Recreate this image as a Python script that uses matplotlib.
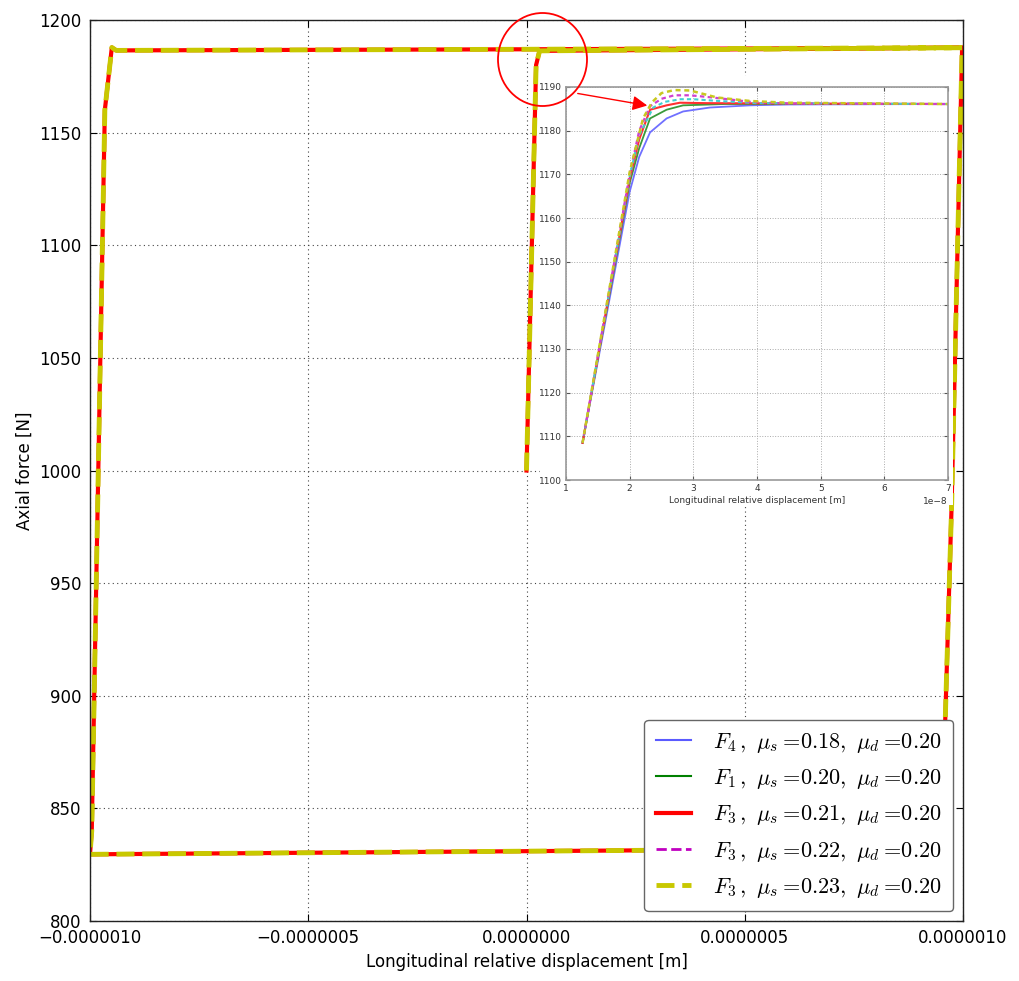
import matplotlib
matplotlib.use("Agg")
import matplotlib.pyplot as plt
from matplotlib.patches import Ellipse, Rectangle, FancyArrowPatch
from matplotlib.ticker import FuncFormatter

plt.rcParams['mathtext.fontset'] = 'cm'
plt.rcParams['font.family'] = ['DejaVu Sans']

# ---------------- data ----------------
labels = [r'$F_4\,,\ \mu_s=\!0.18,\ \mu_d=\!0.20$',
          r'$F_1\,,\ \mu_s=\!0.20,\ \mu_d=\!0.20$',
          r'$F_3\,,\ \mu_s=\!0.21,\ \mu_d=\!0.20$',
          r'$F_3\,,\ \mu_s=\!0.22,\ \mu_d=\!0.20$',
          r'$F_3\,,\ \mu_s=\!0.23,\ \mu_d=\!0.20$']

# main hysteresis loop (x in 1e-6 m, y in N)
loop_x = [0.0, 0.022, 0.03, 0.5, 0.998, 0.974, 0.951, 0.94, 0.0, -1.0,
          -0.996, -0.966, -0.95, -0.94, 0.0, 0.998]
loop_y = [1000, 1180, 1186.3, 1187.0, 1187.7, 985, 835, 832.3, 831.0, 829.6,
          840, 1160, 1187.8, 1186.5, 1187.0, 1187.7]

# inset curves (x in 1e-8 m, y in N)
ins_blue_x = [1.26, 2.0, 2.15, 2.32, 2.58, 2.84, 3.26, 3.89, 4.5, 7.0]
ins_blue_y = [1108.5, 1166, 1174, 1179.6, 1182.8, 1184.4, 1185.3, 1185.8, 1186.0, 1186.1]
ins_green_x = [1.26, 2.0, 2.15, 2.32, 2.58, 2.84, 3.5, 7.0]
ins_green_y = [1108.5, 1168, 1176, 1182.8, 1184.8, 1185.8, 1186.1, 1186.1]
ins_red_x = [1.26, 2.0, 2.15, 2.32, 2.58, 2.79, 3.2, 7.0]
ins_red_y = [1108.5, 1169, 1178, 1184.8, 1185.8, 1186.4, 1186.3, 1186.1]
ins_cyan_x = [1.26, 2.0, 2.15, 2.37, 2.55, 2.8, 3.0, 3.4, 4.0, 7.0]
ins_cyan_y = [1108.5, 1169.5, 1179, 1185.3, 1186.6, 1187.2, 1187.2, 1186.8, 1186.3, 1186.1]
ins_mag_x = [1.26, 2.0, 2.15, 2.32, 2.5, 2.7, 2.95, 3.3, 3.9, 4.5, 7.0]
ins_mag_y = [1108.5, 1170, 1180, 1185.6, 1187.3, 1188.1, 1188.1, 1187.6, 1186.6, 1186.2, 1186.1]
ins_yel_x = [1.26, 2.0, 2.11, 2.21, 2.35, 2.5, 2.7, 2.95, 3.37, 3.89, 4.47, 7.0]
ins_yel_y = [1108.5, 1170.5, 1177, 1182.8, 1186.5, 1188.6, 1189.3, 1189.2, 1187.6, 1186.8, 1186.4, 1186.1]

main_xticks = [-1.0, -0.5, 0.0, 0.5, 1.0]
main_yticks = [800, 850, 900, 950, 1000, 1050, 1100, 1150, 1200]
ins_xticks = [1, 2, 3, 4, 5, 6, 7]
ins_yticks = [1100, 1110, 1120, 1130, 1140, 1150, 1160, 1170, 1180, 1190]

# ---------------- figure ----------------
W, H = 1019, 981
fig = plt.figure(figsize=(W / 100, H / 100), dpi=100)
fig.patch.set_facecolor('white')

def fx(px):
    return px / W

def fy(py):
    return 1 - py / H

ax = fig.add_axes([fx(90), fy(921), fx(963) - fx(90), fy(20) - fy(921)])
ax.set_zorder(0)

lx = [v * 1e-6 for v in loop_x]
styles = [dict(color='#5a5aff', lw=1.5, ls='-', zorder=2.0),
          dict(color='#008000', lw=1.5, ls='-', zorder=2.1),
          dict(color='#ff0000', lw=3.0, ls='-', zorder=2.3),
          dict(color='#c000c0', lw=2.0, ls='--', zorder=2.2),
          dict(color='#c8c800', lw=3.5, ls='--', zorder=2.4)]
for lab, st in zip(labels, styles):
    ax.plot(lx, loop_y, label=lab, **st)

ax.set_xlim(-1e-6, 1e-6)
ax.set_ylim(800, 1200)
ax.set_xticks([v * 1e-6 for v in main_xticks])
ax.set_yticks(main_yticks)
ax.xaxis.set_major_formatter(FuncFormatter(lambda v, p: ('%.7f' % v).replace('-', '\u2212')))
ax.tick_params(direction='in', top=True, right=True, length=5, labelsize=12, pad=6)
ax.grid(True, ls=(0, (1, 3)), color='#444444', lw=0.8)
for s in ax.spines.values():
    s.set_linewidth(1.0)
    s.set_color('#222222')
ax.set_xlabel('Longitudinal relative displacement [m]', fontsize=12)
ax.set_ylabel('Axial force [N]', fontsize=12)

leg = ax.legend(loc='lower right', fontsize=16, handlelength=1.6, labelspacing=0.55,
                borderaxespad=0.45, fancybox=True, framealpha=1.0, borderpad=0.5,
                handletextpad=1.0)
leg.get_frame().set_edgecolor('#666666')

# white backing of pasted inset image
ax.add_patch(Rectangle((fx(540), fy(505)), fx(953) - fx(540), fy(76) - fy(505),
                       transform=fig.transFigure, facecolor='white', edgecolor='none',
                       zorder=10, clip_on=False))

# ---------------- inset ----------------
axi = fig.add_axes([fx(566), fy(480), fx(948) - fx(566), fy(87) - fy(480)])
axi.set_zorder(2)
ins = [(ins_blue_x, ins_blue_y, dict(color='#7070ff', lw=1.3, ls='-')),
       (ins_green_x, ins_green_y, dict(color='#3a9a3a', lw=1.3, ls='-')),
       (ins_red_x, ins_red_y, dict(color='#ff3030', lw=1.5, ls='-')),
       (ins_cyan_x, ins_cyan_y, dict(color='#40d0d0', lw=1.5, ls=(0, (2, 1.5)))),
       (ins_mag_x, ins_mag_y, dict(color='#d040d0', lw=1.6, ls=(0, (2, 1.5)))),
       (ins_yel_x, ins_yel_y, dict(color='#c8c820', lw=1.8, ls=(0, (2, 1.5))))]
for xs, ys, st in ins:
    axi.plot([v * 1e-8 for v in xs], ys, **st)
axi.set_xlim(1e-8, 7e-8)
axi.set_ylim(1100, 1190)
axi.set_xticks([v * 1e-8 for v in ins_xticks])
axi.set_yticks(ins_yticks)
axi.tick_params(direction='in', top=True, right=True, length=3, labelsize=6.5,
                colors='#555555', labelcolor='#333333', pad=3)
axi.xaxis.get_offset_text().set_fontsize(6.5)
axi.xaxis.get_offset_text().set_color('#333333')
axi.grid(True, ls=':', color='#aaaaaa', lw=0.7)
for s in axi.spines.values():
    s.set_color('#999999')
    s.set_linewidth(1.2)
axi.set_xlabel('Longitudinal relative displacement [m]', fontsize=6.5, color='#333333', labelpad=2)

# ---------------- annotation: circle + arrow ----------------
circ = Ellipse((fx(542.5), fy(59.5)), 89 / W, 93 / H, transform=fig.transFigure,
               fill=False, edgecolor='red', lw=1.3, zorder=5)
fig.add_artist(circ)
arr = FancyArrowPatch((fx(575), fy(93)), (fx(650), fy(106)), transform=fig.transFigure,
                      arrowstyle='-|>', mutation_scale=22, color='red', lw=1.0, zorder=5)
fig.add_artist(arr)

fig.savefig('out.png', dpi=100, facecolor='white')
